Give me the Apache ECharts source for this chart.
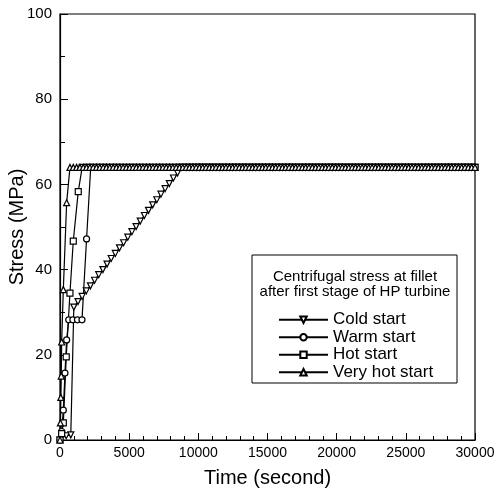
<!DOCTYPE html>
<html>
<head>
<meta charset="utf-8">
<script src="https://cdn.jsdelivr.net/npm/echarts@6/dist/echarts.min.js"></script>
<style>
html,body{margin:0;padding:0;background:#fff;}
#chart{width:497px;height:492px;}
</style>
</head>
<body>
<div id="chart"></div>
<script>
// ---- data ----
const xTicks = [0, 5000, 10000, 15000, 20000, 25000, 30000];
const yTicks = [0, 20, 40, 60, 80, 100];

const coldTime = [0, 150, 450, 780, 1000, 1300, 1600, 1900, 2200, 2500, 2800, 3100, 3400, 3700, 4000, 4300, 4600, 4900, 5200, 5500, 5800, 6100, 6400, 6700, 7000, 7300, 7600, 7900, 8200, 8500, 8800];
const coldStress = [0, 1, 1, 1.2, 31.2, 32.5, 33.7, 35.0, 36.2, 37.5, 38.8, 40.0, 41.3, 42.6, 43.8, 45.1, 46.3, 47.6, 48.9, 50.1, 51.4, 52.7, 53.9, 55.2, 56.4, 57.7, 59.0, 60.2, 61.5, 62.7, 64];

const warmTime = [0, 120, 240, 360, 480, 630, 930, 1260, 1590, 1920, 2220];
const warmStress = [0, 2, 7, 15.7, 23.5, 28.2, 28.2, 28.2, 28.2, 47.2, 64];

const hotTime = [0, 120, 240, 450, 720, 960, 1320, 1600];
const hotStress = [0, 1.5, 4, 19.5, 34.5, 46.7, 58.3, 64];

const veryHotTime = [0, 30, 60, 90, 120, 240, 480, 720];
const veryHotStress = [0, 4, 10, 15, 23, 35.3, 55.7, 64];

// steady (plateau) sampling times and stress shared by all starts
const plateauTime = [960,1200,1440,1680,1920,2160,2400,2640,2880,3120,3360,3600,3840,4080,4320,4560,4800,5040,5280,5520,5760,6000,6240,6480,6720,6960,7200,7440,7680,7920,8160,8400,8640,8880,9120,9360,9600,9840,10080,10320,10560,10800,11040,11280,11520,11760,12000,12240,12480,12720,12960,13200,13440,13680,13920,14160,14400,14640,14880,15120,15360,15600,15840,16080,16320,16560,16800,17040,17280,17520,17760,18000,18240,18480,18720,18960,19200,19440,19680,19920,20160,20400,20640,20880,21120,21360,21600,21840,22080,22320,22560,22800,23040,23280,23520,23760,24000,24240,24480,24720,24960,25200,25440,25680,25920,26160,26400,26640,26880,27120,27360,27600,27840,28080,28320,28560,28800,29040,29280,29520,29760,30000];
const plateauStress = 64;

const seriesNames = ['Cold start', 'Warm start', 'Hot start', 'Very hot start'];
const legendTitle = ['Centrifugal stress at fillet', 'after first stage of HP turbine'];
const xName = 'Time (second)';
const yName = 'Stress (MPa)';

// ---- build ----
function build(times, stresses) {
  const d = times.map((t, i) => [t, stresses[i]]);
  const last = times[times.length - 1];
  plateauTime.forEach(t => { if (t >= last + 200) d.push([t, plateauStress]); });
  return d;
}

const FONT = 'Liberation Sans, Arial, Helvetica, sans-serif';
const chart = echarts.init(document.getElementById('chart'), null, {renderer: 'canvas'});

function mkSeries(name, data, symbol, rotate) {
  return {
    name: name,
    type: 'line',
    data: data,
    symbol: symbol,
    symbolSize: 6,
    symbolRotate: rotate,
    clip: false,
    showAllSymbol: true,
    lineStyle: {color: '#000', width: 1.2},
    itemStyle: {color: '#fff', borderColor: '#000', borderWidth: 1.2},
    emphasis: {disabled: true},
    animation: false
  };
}

const option = {
  backgroundColor: '#fff',
  animation: false,
  textStyle: {fontFamily: FONT, color: '#000'},
  grid: {left: 60, top: 14, right: 22, bottom: 52, show: true, borderColor: '#000', borderWidth: 1.2,
         containLabel: false, outerBoundsMode: 'none'},
  xAxis: {
    type: 'value', min: xTicks[0], max: xTicks[xTicks.length - 1], interval: xTicks[1] - xTicks[0],
    name: xName, nameLocation: 'middle', nameGap: 28, nameMoveOverlap: false,
    nameTextStyle: {fontSize: 20, color: '#000', fontFamily: FONT},
    axisLine: {show: true, lineStyle: {color: '#000', width: 1.2}},
    axisTick: {show: true, inside: true, length: 7, lineStyle: {color: '#000'}},
    minorTick: {show: true, splitNumber: 5, length: 4, lineStyle: {color: '#000'}},
    axisLabel: {fontSize: 14, color: '#000', margin: 6, fontFamily: FONT, formatter: v => String(v)},
    splitLine: {show: false}
  },
  yAxis: {
    type: 'value', min: yTicks[0], max: yTicks[yTicks.length - 1], interval: yTicks[1] - yTicks[0],
    name: yName, nameLocation: 'middle', nameGap: 33, nameMoveOverlap: false,
    nameTextStyle: {fontSize: 20, color: '#000', fontFamily: FONT},
    axisLine: {show: true, lineStyle: {color: '#000', width: 1.2}},
    axisTick: {show: true, inside: true, length: 8, lineStyle: {color: '#000'}},
    minorTick: {show: true, splitNumber: 2, length: 5, lineStyle: {color: '#000'}},
    axisLabel: {fontSize: 15, color: '#000', margin: 8, fontFamily: FONT, formatter: v => String(v)},
    splitLine: {show: false}
  },
  legend: {
    orient: 'vertical', left: 273, top: 306,
    itemWidth: 49, itemHeight: 8, itemGap: 0,
    data: seriesNames,
    textStyle: {fontSize: 17, color: '#000', lineHeight: 17.5, fontFamily: FONT},
    inactiveColor: '#000'
  },
  graphic: [
    {type: 'rect', shape: {x: 252, y: 255, width: 205, height: 128}, style: {fill: 'none', stroke: '#000', lineWidth: 1}, z: 100},
    {type: 'text', x: 355, y: 277, style: {text: legendTitle[0], font: '15px ' + FONT, fill: '#000', textAlign: 'center', textVerticalAlign: 'middle'}, z: 100},
    {type: 'text', x: 355, y: 292, style: {text: legendTitle[1], font: '15px ' + FONT, fill: '#000', textAlign: 'center', textVerticalAlign: 'middle'}, z: 100}
  ],
  series: [
    mkSeries(seriesNames[0], build(coldTime, coldStress), 'triangle', 180),
    mkSeries(seriesNames[1], build(warmTime, warmStress), 'circle', 0),
    mkSeries(seriesNames[2], build(hotTime, hotStress), 'rect', 0),
    mkSeries(seriesNames[3], build(veryHotTime, veryHotStress), 'triangle', 0)
  ]
};
chart.setOption(option);
</script>
</body>
</html>
